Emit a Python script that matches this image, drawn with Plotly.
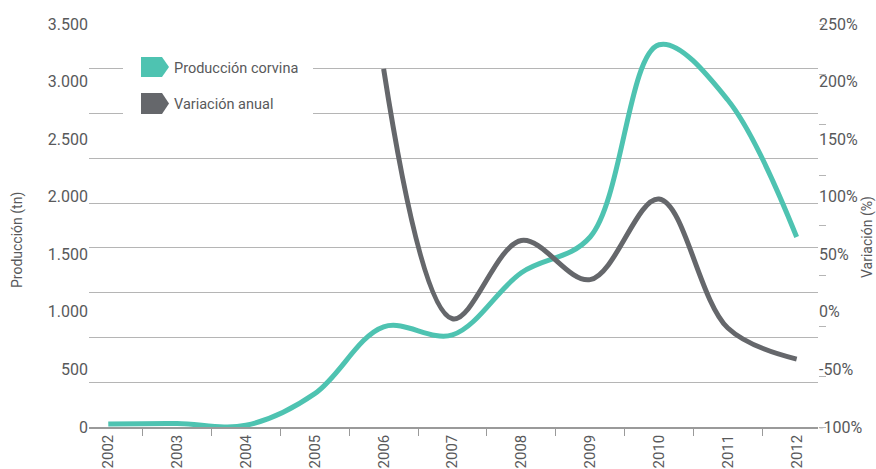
import plotly.graph_objects as go

years = ["2002", "2003", "2004", "2005", "2006", "2007", "2008", "2009", "2010", "2011", "2012"]
produccion = [25, 30, 15, 290, 870, 800, 1340, 1650, 3320, 2840, 1650]
variacion = [None, None, None, None, 211, -6, 62, 28, 98, -14, -41]

left_ticks = [0, 500, 1000, 1500, 2000, 2500, 3000, 3500]
right_ticks = [-100, -50, 0, 50, 100, 150, 200, 250]
right_labels = ["-100%", "-50%", "0%", "50%", "100%", "150%", "200%", "250%"]

GREEN = "#4EC3B1"
GRAY = "#65676B"
TXT = "#58595B"
FONT = "Roboto, sans-serif"

W, H = 876, 469
L, R, T, B = 89, 58, 24, 42
PW, PH = W - L - R, H - T - B


def px(x):
    return (x - L) / PW


def py(y):
    return (H - B - y) / PH


fig = go.Figure()
fig.add_trace(go.Scatter(x=years, y=produccion, mode="lines", name="Producción corvina",
                         line=dict(color=GREEN, width=5, shape="spline", smoothing=1),
                         yaxis="y", showlegend=False))
fig.add_trace(go.Scatter(x=years, y=variacion, mode="lines", name="Variación anual",
                         line=dict(color=GRAY, width=5, shape="spline", smoothing=1),
                         yaxis="y2", showlegend=False, connectgaps=False))
# helper invisible traces for grid axis and right tick-mark axis
fig.add_trace(go.Scatter(x=years[:1], y=[0], mode="markers", marker=dict(opacity=0),
                         yaxis="y3", showlegend=False, hoverinfo="skip"))
fig.add_trace(go.Scatter(x=years[:1], y=[0], mode="markers", marker=dict(opacity=0),
                         yaxis="y4", showlegend=False, hoverinfo="skip"))

shapes = []
# white legend background
shapes.append(dict(type="rect", xref="paper", yref="paper", x0=px(123), x1=px(313),
                   y0=py(125), y1=py(50), fillcolor="white", line=dict(width=0), layer="above"))


def tag(x0, y0, y1, color):
    xm, xe = x0 + 21, x0 + 28
    yc = (y0 + y1) / 2
    path = (f"M {px(x0)},{py(y0)} L {px(xm)},{py(y0)} L {px(xe)},{py(yc)} "
            f"L {px(xm)},{py(y1)} L {px(x0)},{py(y1)} Z")
    return dict(type="path", xref="paper", yref="paper", path=path, fillcolor=color,
                line=dict(width=0), layer="above")


shapes.append(tag(141, 57, 77, GREEN))
shapes.append(tag(141, 93, 114, GRAY))

annotations = [
    dict(text="Producción corvina", xref="paper", yref="paper", x=px(172), y=py(68),
         xanchor="left", yanchor="middle", showarrow=False, font=dict(family=FONT, size=14.5, color=TXT)),
    dict(text="Variación anual", xref="paper", yref="paper", x=px(172), y=py(104),
         xanchor="left", yanchor="middle", showarrow=False, font=dict(family=FONT, size=14.5, color=TXT)),
    dict(text="Producción (tn)", xref="paper", yref="paper", x=px(18), y=py(240),
         xanchor="center", yanchor="middle", textangle=-90, showarrow=False,
         font=dict(family=FONT, size=14, color=TXT)),
    dict(text="Variación (%)", xref="paper", yref="paper", x=px(867), y=py(237),
         xanchor="center", yanchor="middle", textangle=-90, showarrow=False,
         font=dict(family=FONT, size=14, color=TXT)),
]

fig.update_layout(
    width=W, height=H,
    margin=dict(l=L, r=R, t=T, b=B, autoexpand=False),
    plot_bgcolor="white", paper_bgcolor="white",
    separators=",.",
    font=dict(family=FONT, size=16, color=TXT),
    xaxis=dict(type="category", categoryorder="array", categoryarray=years,
               range=[-0.28, 10.31], tickangle=-90, tickson="boundaries",
               ticks="outside", ticklen=7, tickcolor="#9a9a9a", tickwidth=1,
               showline=True, linecolor="#9a9a9a", linewidth=1.5, showgrid=False,
               zeroline=False, automargin=False, tickfont=dict(size=15, color=TXT)),
    yaxis=dict(range=[0, 3500], tickvals=left_ticks, tickformat=",d", showgrid=False,
               zeroline=False, showline=False, ticks="", automargin=False,
               tickfont=dict(size=16, color=TXT)),
    yaxis2=dict(overlaying="y", side="right", anchor="x", range=[-100, 250], tickvals=right_ticks,
                ticktext=right_labels, showgrid=False, zeroline=False, showline=False, ticks="",
                automargin=False, tickfont=dict(size=16, color=TXT)),
    yaxis3=dict(overlaying="y", anchor="x", range=[0, 9], dtick=1, showgrid=True,
                gridcolor="#b5b5b5", gridwidth=1.3, showticklabels=False, zeroline=False,
                showline=False, ticks="", automargin=False),
    yaxis4=dict(overlaying="y", side="right", anchor="x", range=[0, 8], dtick=1,
                showgrid=False, showticklabels=False, zeroline=False, showline=False,
                ticks="outside", ticklen=7, tickcolor="#b5b5b5", tickwidth=1.3, automargin=False),
    shapes=shapes,
    annotations=annotations,
)

fig.write_html("out.html", config={"displayModeBar": False},
               post_script="document.body.style.margin='0';document.body.style.padding='0';")
